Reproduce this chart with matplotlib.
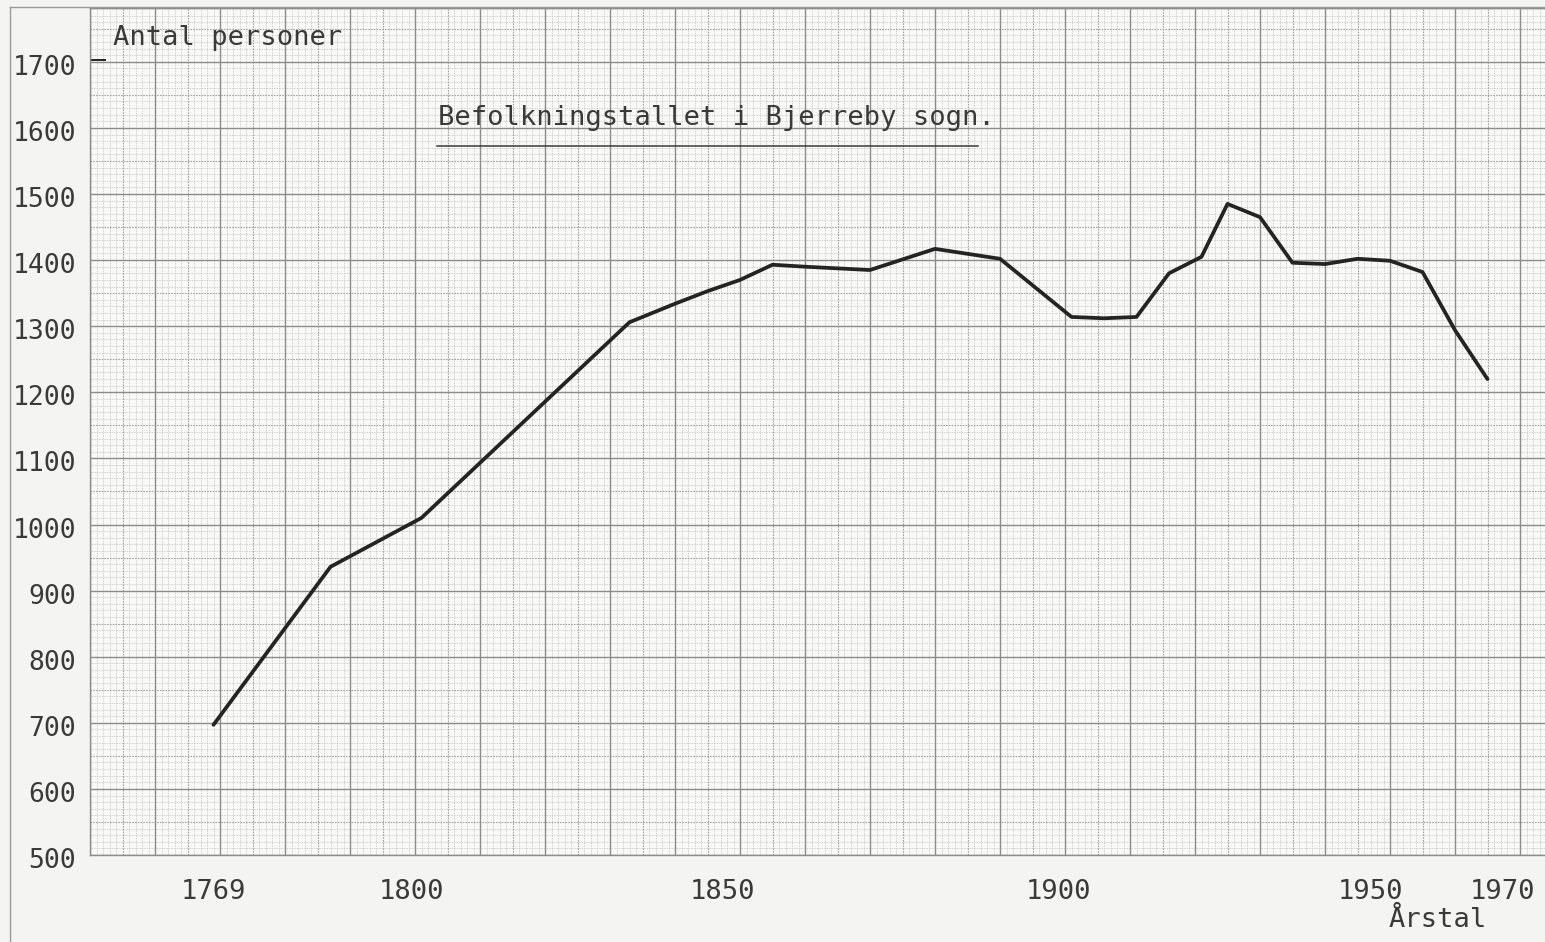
import matplotlib.pyplot as plt
import numpy as np
from matplotlib.lines import Line2D
from matplotlib.transforms import ScaledTranslation, blended_transform_factory

# Data (census years and population of Bjerreby sogn)
years = [1769, 1787, 1801, 1833, 1840, 1845, 1850, 1855, 1860, 1870, 1880, 1890,
         1901, 1906, 1911, 1916, 1921, 1925, 1930, 1935, 1940, 1945, 1950, 1955,
         1960, 1965]
population = [697, 936, 1010, 1306, 1334, 1353, 1370, 1393, 1390, 1385, 1417, 1402,
              1314, 1312, 1314, 1380, 1405, 1485, 1465, 1396, 1394, 1402, 1399, 1382,
              1294, 1220]

x_ticks = [1769, 1800, 1850, 1900, 1950, 1970]
y_ticks = list(range(500, 1701, 100))

title = "Befolkningstallet i Bjerreby sogn."
y_title = "Antal personer"
x_title = "Årstal"

plt.rcParams['font.family'] = ['DejaVu Sans Mono']
FS = 19.5
INK = '#242424'
TXT = '#3a3a3a'

fig = plt.figure(figsize=(15.45, 9.42), dpi=100, facecolor='#f4f4f2')
ax = fig.add_axes([90 / 1545, 87 / 942, 1455 / 1545, 847 / 942])
ax.set_facecolor('#f9f9f8')

x0, x1 = 1750, 1750 + 1455 / 6.5
y0, y1 = 500, 500 + 847 / 0.661
ax.set_xlim(x0, x1)
ax.set_ylim(y0, y1)

# graph paper: 1 mm fine lines, 5 mm medium, 10 mm major
fx = np.arange(1750, 1975, 1)
fy = np.arange(500, 1790, 10)
ax.vlines(fx[fx % 5 != 0], y0, y1, colors='#c4c4c4', lw=0.6, linestyles=(0, (1, 1)), zorder=1)
ax.hlines(fy[fy % 50 != 0], x0, x1, colors='#c4c4c4', lw=0.6, linestyles=(0, (1, 1)), zorder=1)
mx = fx[(fx % 5 == 0) & (fx % 10 != 0)]
my = fy[(fy % 50 == 0) & (fy % 100 != 0)]
ax.vlines(mx, y0, y1, colors='#a4a4a4', lw=0.8, linestyles=(0, (1.5, 1)), zorder=1)
ax.hlines(my, x0, x1, colors='#a4a4a4', lw=0.8, linestyles=(0, (1.5, 1)), zorder=1)
ax.vlines(fx[fx % 10 == 0], y0, y1, colors='#8c8c8c', lw=1.0, zorder=1)
ax.hlines(fy[fy % 100 == 0], x0, x1, colors='#8c8c8c', lw=1.0, zorder=1)

for s in ax.spines.values():
    s.set_color('#8c8c8c')
    s.set_linewidth(1.0)
ax.spines['right'].set_visible(False)

# population curve
ax.plot(years, population, color=INK, lw=2.7, solid_joinstyle='round',
        solid_capstyle='round', zorder=3)

# ticks / labels
ax.set_xticks(x_ticks)
ax.set_xticklabels([str(v) for v in x_ticks], fontsize=FS, color=TXT)
ax.set_yticks(y_ticks)
ax.set_yticklabels([str(v) for v in y_ticks], fontsize=19, color=TXT)
ax.tick_params(axis='x', length=0, pad=17)
ax.tick_params(axis='y', length=0, pad=10)
# typed labels sit a little off the grid years
shifts = [0, -4, -18, -7, -20, -18]
for lab, dx in zip(ax.get_xticklabels(), shifts):
    lab.set_transform(lab.get_transform() + ScaledTranslation(dx / 100, 0, fig.dpi_scale_trans))
for lab in ax.get_yticklabels():
    lab.set_transform(lab.get_transform() + ScaledTranslation(0, -3 / 100, fig.dpi_scale_trans))

# hand-drawn tick at 1700
ax.add_line(Line2D([0.001, 0.010], [1703, 1703], color=INK, lw=1.4,
                   transform=blended_transform_factory(ax.transAxes, ax.transData)))

ax.text(0.0158, 0.965, y_title, transform=ax.transAxes, fontsize=FS,
        color=TXT, ha='left', va='center')
ax.text(0.239, 0.870, title, transform=ax.transAxes, fontsize=FS,
        color=TXT, ha='left', va='center')
ax.add_line(Line2D([0.2385, 0.610], [0.837, 0.837], transform=ax.transAxes,
                   color=TXT, lw=1.1))
fig.text(1438 / 1545, 1 - 920 / 942, x_title, fontsize=FS, color=TXT,
         ha='center', va='center')

# scan page border
fig.add_artist(Line2D([10 / 1545, 10 / 1545], [0, 1 - 7 / 942], transform=fig.transFigure,
                      color='#9a9a9a', lw=1.0))
fig.add_artist(Line2D([10 / 1545, 1], [1 - 7 / 942, 1 - 7 / 942], transform=fig.transFigure,
                      color='#9a9a9a', lw=1.0))

plt.savefig("out.png", dpi=100, facecolor=fig.get_facecolor())
